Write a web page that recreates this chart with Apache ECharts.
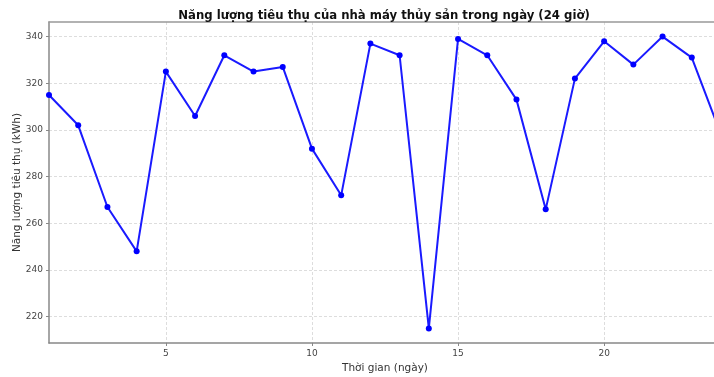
<!DOCTYPE html>
<html>
<head>
<meta charset="utf-8">
<script src="https://cdn.jsdelivr.net/npm/echarts@6/dist/echarts.min.js"></script>
<style>html,body{margin:0;padding:0;background:#fff;overflow:hidden;}#c{width:721px;height:377px;}</style>
</head>
<body>
<div id="c"></div>
<script>
const days = [1,2,3,4,5,6,7,8,9,10,11,12,13,14,15,16,17,18,19,20,21,22,23,24];
const energy = [315,302,267,248,325,306,332,325,327,292,272,337,332,215,339,332,313,266,322,338,328,340,331,298];
const xTicks = [5,10,15,20];
const yTicks = [220,240,260,280,300,320,340];
const titleText = 'Năng lượng tiêu thụ của nhà máy thủy sản trong ngày (24 giờ)';
const xName = 'Thời gian (ngày)';
const yName = 'Năng lượng tiêu thụ (kWh)';

const font = 'DejaVu Sans';
const chart = echarts.init(document.getElementById('c'), null, {renderer:'canvas'});
chart.setOption({
  animation:false,
  backgroundColor:'#fff',
  title:{text:titleText, left:379, textAlign:'center', top:5,
    textStyle:{fontFamily:font, fontSize:11.7, fontWeight:'bold', color:'#111'}},
  grid:{left:49, right:0, top:22, bottom:34, outerBoundsMode:'none', containLabel:false, show:false},
  xAxis:[{type:'value', min:1, max:24,
    name:xName, nameLocation:'middle', nameGap:20, nameMoveOverlap:false,
    nameTextStyle:{fontFamily:font, fontSize:10.5, color:'#333'},
    axisLine:{show:true, lineStyle:{color:'#888', width:1.5}},
    axisTick:{show:true, length:3, inside:false, customValues:xTicks, lineStyle:{color:'#888'}},
    axisLabel:{customValues:xTicks, fontFamily:font, fontSize:9, color:'#444', margin:6},
    splitLine:{show:true, lineStyle:{color:'#ddd', type:[3,2], width:1}}},
   {type:'value', position:'top', min:1, max:24,
    axisLine:{show:true, onZero:false, lineStyle:{color:'#999', width:1.5}},
    axisTick:{show:false}, axisLabel:{show:false}, splitLine:{show:false}}],
  yAxis:{type:'value', min:208.75, max:346.25,
    name:yName, nameLocation:'middle', nameGap:26, nameMoveOverlap:false,
    nameTextStyle:{fontFamily:font, fontSize:10.5, color:'#333'},
    axisLine:{show:true, lineStyle:{color:'#888', width:1.5}},
    axisTick:{show:true, length:3, customValues:yTicks, lineStyle:{color:'#888'}},
    axisLabel:{customValues:yTicks, fontFamily:font, fontSize:9, color:'#444', margin:6},
    splitLine:{show:true, lineStyle:{color:'#ddd', type:[3,2], width:1}}},
  series:[{type:'line', xAxisIndex:0, data:days.map((d,i)=>[d,energy[i]]),
    color:'#0000ff', lineStyle:{width:2, color:'#1a1aff'},
    symbol:'circle', symbolSize:6, itemStyle:{color:'#0000ff'}, clip:true}]
});
</script>
</body>
</html>
